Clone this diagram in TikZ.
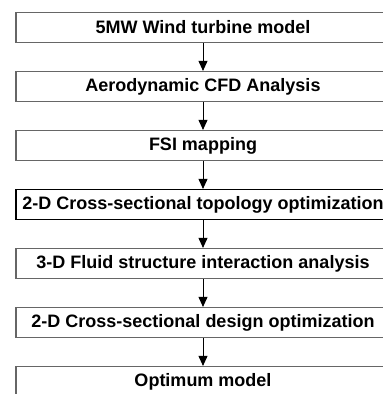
\documentclass[tikz,border=0pt]{standalone}
\usepackage{fontspec}
\setmainfont{Liberation Sans}
\usetikzlibrary{arrows.meta}
\begin{document}
\begin{tikzpicture}[x=1pt,y=-1pt,
    box/.style={draw=black!60,line width=1.2pt,fill=white,minimum width=374pt,minimum height=30pt,inner sep=0pt,font=\fontsize{18}{20}\selectfont\bfseries},
    flow/.style={-{Triangle[width=9pt,length=10pt]},line width=0.9pt}]
		    \useasboundingbox[fill=white] (0,0) rectangle (383,394);
		    \clip (0,0) rectangle (383,394);
			    \node[box] (AA) at (203,27.5) {5MW Wind turbine model};
		    	\node[box] (AB) at (203,86.5) {Aerodynamic CFD Analysis};
		    	\node[box] (AC) at (203,145.5) {FSI mapping};
		    	\node[box,draw=black] (AD) at (203,204.5) {2-D Cross-sectional topology optimization};
		    	\node[box] (AE) at (203,263.5) {3-D Fluid structure interaction analysis};
		    	\node[box] (AF) at (203,322.5) {2-D Cross-sectional design optimization};
		    	\node[box] (AG) at (203,381.5) {Optimum model};
		    	
		    	\draw[flow] (AA)--(AB);
		    	\draw[flow] (AB)--(AC);
		    	\draw[flow] (AC)--(AD);
		    	\draw[flow] (AD)--(AE);
		    	\draw[flow] (AE)--(AF);
	    	    \draw[flow] (AF)--(AG);
		    \end{tikzpicture}
\end{document}
